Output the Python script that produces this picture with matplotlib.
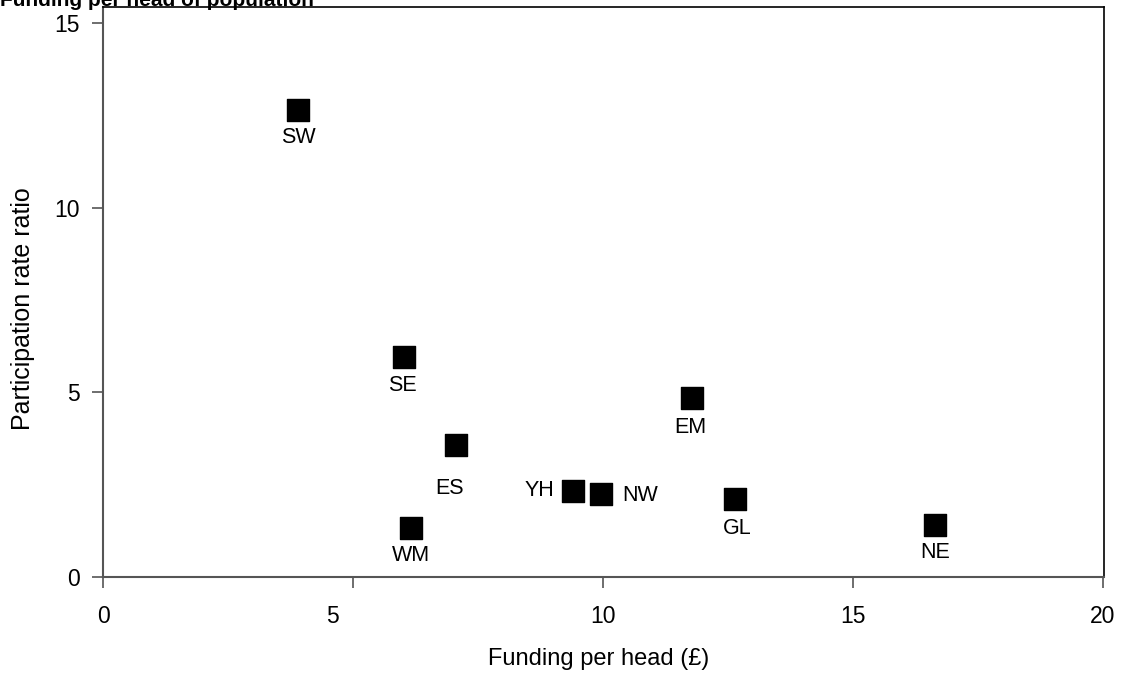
import matplotlib
matplotlib.use('Agg')
import matplotlib.pyplot as plt
import matplotlib.transforms as mtransforms

plt.rcParams['font.family'] = ['Liberation Sans', 'DejaVu Sans']

regions = ['SW', 'SE', 'EM', 'ES', 'YH', 'NW', 'GL', 'WM', 'NE']
funding = [3.9, 6.02, 11.78, 7.06, 9.4, 9.96, 12.64, 6.16, 16.64]
ratio = [12.65, 5.96, 4.85, 3.57, 2.33, 2.25, 2.11, 1.33, 1.41]
# label placement relative to point (points offset)
offsets = {'SW': (0, -20), 'SE': (-1, -21), 'EM': (-1, -21), 'ES': (-5, -31),
           'YH': (-24, 0), 'NW': (28, -1.5), 'GL': (1.5, -21.5), 'WM': (0, -20),
           'NE': (0, -20)}

xticks = [0, 5, 10, 15, 20]
yticks = [0, 5, 10, 15]

fig = plt.figure(figsize=(11.25, 6.75), dpi=100)
ax = fig.add_axes([0.0916, 0.1452, 0.8897, 0.8444])

ax.scatter(funding, ratio, marker='s', s=260, color='black', zorder=3)
for r, x, y in zip(regions, funding, ratio):
    dx, dy = offsets[r]
    ax.annotate(r, (x, y), xytext=(dx, dy), textcoords='offset points',
                ha='center', va='center', fontsize=15.5)

ax.set_xlim(0, 20.02)
ax.set_ylim(0, 15.43)
ax.set_xticks(xticks)
ax.set_yticks(yticks)
ax.tick_params(direction='out', length=8, width=1.2, color='#555555',
               labelsize=16.5)
ax.tick_params(axis='x', pad=12)
ax.tick_params(axis='y', pad=9)
for side in ['left', 'bottom']:
    ax.spines[side].set_color('#555555')
    ax.spines[side].set_linewidth(1.5)
for side in ['top', 'right']:
    ax.spines[side].set_color('black')
    ax.spines[side].set_linewidth(1.2)

# the "5" label sits a little left of its tick in the original
shift = mtransforms.ScaledTranslation(-0.21, 0, fig.dpi_scale_trans)
lab5 = ax.get_xticklabels()[1]
lab5.set_transform(lab5.get_transform() + shift)

ax.set_xlabel('Funding per head (£)', fontsize=17)
ax.set_ylabel('Participation rate ratio', fontsize=18)
ax.xaxis.set_label_coords(0.495, -0.125)
ax.yaxis.set_label_coords(-0.068, 0.47)

# title cut off at top edge of the image
fig.text(0.0, 1.0, 'Funding per head of population', fontsize=15,
         fontweight='bold', ha='left', va='center')

fig.savefig('out.png', dpi=100)
